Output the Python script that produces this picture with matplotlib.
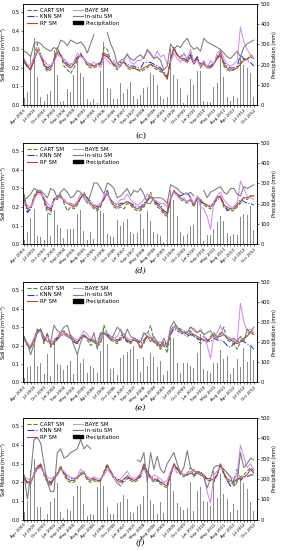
import numpy as np
import matplotlib
matplotlib.use("Agg")
import matplotlib.pyplot as plt
from matplotlib.patches import Patch
from matplotlib.lines import Line2D

nan = np.nan
months = ["Apr", "May", "Jun", "Jul", "Aug", "Sep", "Oct"]
years = list(range(2003, 2013))
dates = [f"{m} {y}" for y in years for m in months]
label_step = 3

# ---------------- panel (c) ----------------
precip_c = [35, 65, 245, 330, 140, 40, 20, 55, 70, 270, 150, 15, 20, 80, 65, 150, 240, 160, 140, 30,
            15, 30, 10, 170, 310, 85, 80, 30, 30, 110, 60, 80, 115, 45, 30, 50, 85, 90, 160, 150,
            100, 45, 30, 40, 280, 150, 130, 85, 10, 50, 130, 100, 170, 170, 20, 15, 15, 90, 110, 240,
            140, 40, 20, 45, 35, 240, 200, 185, 160, 40]
rf_c = [0.24, 0.21, 0.19, 0.24, 0.30, 0.26, 0.22, 0.19, 0.20, 0.24, 0.29, 0.27, 0.23, 0.21,
        0.20, 0.22, 0.25, 0.27, 0.25, 0.22, 0.21, 0.21, 0.22, 0.22, 0.28, 0.27, 0.24, 0.22,
        0.20, 0.22, 0.23, 0.21, 0.20, 0.20, 0.19, 0.19, 0.20, 0.21, 0.22, 0.21, 0.20, 0.19,
        0.17, 0.14, 0.24, 0.31, 0.27, 0.25, 0.24, 0.23, 0.26, 0.22, 0.25, 0.21, 0.22, 0.20,
        0.20, 0.22, 0.25, 0.28, 0.22, 0.20, 0.19, 0.19, 0.20, 0.22, 0.24, 0.25, 0.26, 0.25]
cart_c = [0.25, 0.20, 0.19, 0.26, 0.33, 0.27, 0.21, 0.18, 0.19, 0.25, 0.31, 0.27, 0.21, 0.19,
          0.17, 0.20, 0.24, 0.28, 0.25, 0.21, 0.20, 0.20, 0.21, 0.22, 0.31, 0.30, 0.24, 0.21,
          0.19, 0.21, 0.24, 0.20, 0.19, 0.20, 0.19, 0.18, 0.19, 0.20, 0.22, 0.20, 0.19, 0.18,
          0.17, 0.14, 0.25, 0.31, 0.27, 0.26, 0.28, 0.24, 0.28, 0.23, 0.26, 0.20, 0.23, 0.21,
          0.20, 0.22, 0.26, 0.29, 0.21, 0.19, 0.18, 0.19, 0.20, 0.23, 0.25, 0.24, 0.27, 0.26]
knn_c = [0.23, 0.21, 0.20, 0.24, 0.29, 0.27, 0.23, 0.20, 0.21, 0.24, 0.28, 0.27, 0.24, 0.22,
         0.21, 0.23, 0.26, 0.27, 0.25, 0.23, 0.22, 0.21, 0.22, 0.23, 0.27, 0.26, 0.24, 0.22,
         0.21, 0.23, 0.23, 0.22, 0.21, 0.21, 0.20, 0.20, 0.23, 0.23, 0.23, 0.22, 0.21, 0.20,
         0.18, 0.15, 0.24, 0.30, 0.27, 0.25, 0.25, 0.24, 0.27, 0.23, 0.26, 0.22, 0.23, 0.21,
         0.21, 0.23, 0.25, 0.27, 0.23, 0.21, 0.20, 0.20, 0.21, 0.27, 0.25, 0.24, 0.23, 0.21]
baye_c = [0.25, 0.22, 0.21, 0.26, 0.29, 0.27, 0.24, 0.22, 0.21, 0.23, 0.27, 0.26, 0.25, 0.23,
          0.22, 0.23, 0.28, 0.26, 0.25, 0.23, 0.22, 0.23, 0.22, 0.20, 0.26, 0.24, 0.22, 0.24,
          0.20, 0.22, 0.24, 0.28, 0.23, 0.22, 0.24, 0.24, 0.26, 0.29, 0.27, 0.25, 0.29, 0.26,
          0.27, 0.22, 0.23, 0.28, 0.25, 0.23, 0.28, 0.25, 0.30, 0.23, 0.24, 0.21, 0.24, 0.20,
          0.24, 0.22, 0.28, 0.30, 0.25, 0.22, 0.21, 0.22, 0.24, 0.42, 0.34, 0.30, 0.27, 0.25]
insitu_c = [0.29, 0.28, 0.26, 0.33, 0.34, 0.33, 0.31, 0.30, 0.29, 0.31, 0.30, 0.35, 0.34, 0.32,
            0.35, 0.34, 0.33, 0.34, 0.32, 0.28, 0.33, 0.38, nan, nan, nan, 0.39, 0.33, 0.29,
            0.22, 0.24, 0.25, 0.27, 0.25, 0.24, 0.26, 0.27, 0.25, 0.30, 0.28, 0.25, 0.26, 0.24,
            0.19, 0.21, 0.33, 0.30, 0.32, 0.31, 0.34, 0.36, 0.32, 0.30, 0.31, 0.29, 0.36, 0.34,
            0.33, 0.32, 0.31, 0.30, 0.28, 0.26, 0.25, 0.27, 0.29, 0.26, 0.31, 0.33, 0.34, 0.35]

# ---------------- panel (d) ----------------
precip_d = [20, 60, 130, 175, 40, 35, 20, 150, 40, 170, 95, 80, 30, 75, 75, 75, 150, 170, 65, 20,
            60, 25, 175, 165, 155, 50, 40, 35, 120, 90, 110, 125, 60, 50, 55, 150, 75, 165, 115, 60,
            50, 40, 10, 225, 270, 220, 140, 60, 40, 50, 90, 95, 215, 220, 15, 45, 45, 75, 110, 140,
            115, 55, 40, 50, 45, 135, 150, 145, 190, 70]
rf_d = [0.25, 0.19, 0.20, 0.25, 0.28, 0.28, 0.24, 0.19, 0.18, 0.24, 0.25, 0.26, 0.23, 0.22,
        0.21, 0.20, 0.22, 0.25, 0.27, 0.25, 0.22, 0.20, 0.19, 0.21, 0.25, 0.27, 0.24, 0.21,
        0.20, 0.21, 0.22, 0.23, 0.22, 0.20, 0.19, 0.19, 0.21, 0.23, 0.26, 0.24, 0.21, 0.20,
        0.17, 0.16, 0.24, 0.29, 0.27, 0.25, 0.24, 0.23, 0.24, 0.21, 0.25, 0.24, 0.22, 0.21,
        0.20, 0.22, 0.25, 0.26, 0.21, 0.20, 0.19, 0.19, 0.21, 0.23, 0.25, 0.25, 0.26, 0.26]
cart_d = [0.27, 0.18, 0.19, 0.26, 0.29, 0.28, 0.23, 0.17, 0.16, 0.25, 0.24, 0.27, 0.22, 0.18,
          0.20, 0.19, 0.21, 0.25, 0.28, 0.24, 0.21, 0.19, 0.18, 0.20, 0.26, 0.28, 0.23, 0.20,
          0.19, 0.20, 0.19, 0.22, 0.21, 0.19, 0.18, 0.18, 0.20, 0.24, 0.28, 0.23, 0.20, 0.19,
          0.16, 0.15, 0.25, 0.28, 0.27, 0.24, 0.23, 0.22, 0.24, 0.20, 0.26, 0.23, 0.21, 0.20,
          0.19, 0.21, 0.26, 0.25, 0.20, 0.19, 0.18, 0.18, 0.20, 0.22, 0.25, 0.24, 0.26, 0.26]
knn_d = [0.24, 0.17, 0.19, 0.24, 0.28, 0.28, 0.25, 0.20, 0.19, 0.24, 0.26, 0.25, 0.24, 0.22,
         0.22, 0.21, 0.22, 0.25, 0.26, 0.25, 0.23, 0.21, 0.20, 0.22, 0.24, 0.29, 0.24, 0.22,
         0.21, 0.22, 0.22, 0.23, 0.22, 0.21, 0.20, 0.20, 0.22, 0.24, 0.25, 0.24, 0.22, 0.21,
         0.18, 0.17, 0.25, 0.28, 0.27, 0.26, 0.27, 0.28, 0.25, 0.22, 0.24, 0.23, 0.22, 0.21,
         0.21, 0.22, 0.24, 0.25, 0.22, 0.18, 0.19, 0.20, 0.22, 0.24, 0.23, 0.22, 0.22, 0.21]
baye_d = [0.23, 0.21, 0.20, 0.24, 0.27, 0.27, 0.25, 0.22, 0.20, 0.23, 0.26, 0.25, 0.24, 0.22,
          0.22, 0.21, 0.23, 0.27, 0.26, 0.24, 0.22, 0.21, 0.21, 0.22, 0.26, 0.28, 0.23, 0.22,
          0.22, 0.24, 0.24, 0.27, 0.24, 0.22, 0.21, 0.22, 0.24, 0.27, 0.25, 0.24, 0.23, 0.22,
          0.22, 0.20, 0.25, 0.28, 0.26, 0.24, 0.25, 0.22, 0.25, 0.22, 0.26, 0.20, 0.19, 0.15,
          0.08, 0.23, 0.26, 0.28, 0.24, 0.22, 0.20, 0.20, 0.22, 0.34, 0.30, 0.26, 0.25, 0.24]
insitu_d = [0.24, 0.25, 0.27, 0.30, 0.29, 0.29, 0.27, 0.25, 0.30, 0.29, 0.25, 0.28, 0.30, 0.28,
            0.25, 0.26, 0.29, 0.28, 0.25, 0.22, 0.27, 0.33, 0.33, 0.30, 0.27, 0.33, 0.32, 0.30,
            0.25, 0.26, 0.28, 0.30, 0.26, 0.29, 0.28, 0.30, 0.27, 0.22, 0.22, 0.25, 0.25, 0.25,
            0.24, 0.22, 0.32, 0.31, 0.30, 0.28, 0.27, 0.27, 0.28, 0.26, nan, nan, 0.29, 0.25,
            0.28, 0.29, 0.30, 0.31, 0.28, 0.27, 0.30, 0.30, 0.27, 0.26, 0.31, 0.30, 0.31, 0.32]

# ---------------- panel (e) ----------------
precip_e = [20, 75, 80, 215, 80, 95, 40, 140, 30, 220, 90, 85, 60, 85, 105, 40, 135, 95, 115, 45,
            80, 70, 45, 155, 275, 190, 65, 70, 35, 120, 135, 150, 165, 180, 115, 50, 125, 80, 145, 125,
            75, 105, 35, 55, 225, 220, 95, 45, 95, 95, 80, 70, 145, 240, 65, 55, 45, 95, 95, 160,
            115, 130, 40, 70, 115, 75, 170, 100, 175, 110]
rf_e = [0.24, 0.20, 0.19, 0.23, 0.28, 0.29, 0.22, 0.26, 0.20, 0.22, 0.23, 0.26, 0.27, 0.26,
        0.25, 0.23, 0.22, 0.24, 0.25, 0.24, 0.23, 0.22, 0.21, 0.22, 0.27, 0.25, 0.24, 0.23,
        0.22, 0.24, 0.25, 0.23, 0.22, 0.23, 0.22, 0.19, 0.22, 0.25, 0.24, 0.22, 0.21, 0.19,
        0.21, 0.19, 0.27, 0.30, 0.29, 0.28, 0.27, 0.26, 0.27, 0.26, 0.25, 0.24, 0.23, 0.22,
        0.24, 0.26, 0.25, 0.25, 0.26, 0.24, 0.23, 0.22, 0.21, 0.22, 0.24, 0.25, 0.27, 0.26]
cart_e = [0.25, 0.20, 0.18, 0.24, 0.29, 0.28, 0.21, 0.27, 0.19, 0.21, 0.24, 0.27, 0.28, 0.25,
          0.24, 0.22, 0.21, 0.25, 0.26, 0.23, 0.20, 0.22, 0.20, 0.21, 0.31, 0.26, 0.23, 0.22,
          0.21, 0.25, 0.27, 0.22, 0.21, 0.24, 0.23, 0.18, 0.21, 0.26, 0.31, 0.23, 0.20, 0.18,
          0.20, 0.16, 0.28, 0.31, 0.30, 0.29, 0.28, 0.27, 0.28, 0.25, 0.24, 0.21, 0.23, 0.22,
          0.25, 0.27, 0.24, 0.26, 0.30, 0.23, 0.22, 0.21, 0.18, 0.22, 0.23, 0.26, 0.28, 0.27]
knn_e = [0.23, 0.21, 0.20, 0.23, 0.27, 0.28, 0.23, 0.25, 0.21, 0.23, 0.24, 0.25, 0.26, 0.25,
         0.24, 0.22, 0.21, 0.24, 0.25, 0.24, 0.23, 0.23, 0.22, 0.26, 0.27, 0.26, 0.25, 0.24,
         0.23, 0.23, 0.24, 0.22, 0.22, 0.23, 0.23, 0.21, 0.23, 0.25, 0.24, 0.22, 0.22, 0.20,
         0.22, 0.20, 0.26, 0.29, 0.28, 0.27, 0.26, 0.25, 0.26, 0.25, 0.24, 0.23, 0.25, 0.23,
         0.22, 0.24, 0.23, 0.23, 0.22, 0.20, 0.19, 0.21, 0.22, 0.23, 0.22, 0.21, 0.20, 0.18]
baye_e = [0.23, 0.21, 0.20, 0.24, 0.27, 0.28, 0.24, 0.25, 0.22, 0.23, 0.25, 0.27, 0.26, 0.25,
          0.26, 0.24, 0.23, 0.25, 0.28, 0.26, 0.24, 0.23, 0.22, 0.24, 0.26, 0.27, 0.25, 0.24,
          0.25, 0.29, 0.26, 0.24, 0.23, 0.24, 0.23, 0.22, 0.26, 0.27, 0.25, 0.23, 0.22, 0.22,
          0.21, 0.20, 0.28, 0.30, 0.29, 0.27, 0.28, 0.27, 0.30, 0.28, 0.27, 0.29, 0.26, 0.20,
          0.13, 0.25, 0.27, 0.31, 0.26, 0.25, 0.24, 0.23, 0.22, 0.43, 0.33, 0.28, 0.29, 0.27]
insitu_e = [0.25, 0.21, 0.15, 0.21, 0.27, 0.29, 0.25, 0.22, 0.22, 0.31, 0.28, 0.27, 0.30, 0.31,
            0.25, 0.20, 0.15, 0.22, 0.26, 0.24, 0.22, 0.27, 0.18, 0.27, 0.27, 0.25, 0.23, 0.26,
            0.30, 0.28, 0.24, 0.29, 0.25, 0.24, 0.23, 0.22, 0.27, 0.25, 0.22, 0.25, 0.22, 0.20,
            0.24, 0.20, 0.30, 0.33, 0.30, 0.28, 0.27, 0.27, 0.30, 0.29, 0.27, 0.28, 0.26, 0.27,
            0.28, 0.25, 0.24, 0.27, 0.26, 0.24, 0.23, 0.24, 0.22, 0.25, 0.22, 0.29, 0.27, 0.30]

# ---------------- panel (f) ----------------
precip_f = [40, 90, 245, 300, 65, 65, 5, 30, 85, 105, 180, 40, 10, 55, 45, 115, 165, 165, 75, 20,
            30, 25, 160, 205, 165, 65, 30, 30, 80, 85, 120, 100, 40, 35, 70, 75, 115, 200, 95, 75,
            30, 85, 35, 175, 225, 140, 80, 65, 50, 60, 185, 45, 140, 160, 90, 85, 70, 240, 105, 225,
            125, 100, 40, 75, 50, 190, 180, 150, 85, 45]
rf_f = [0.23, 0.20, 0.20, 0.24, 0.28, 0.30, 0.25, 0.21, 0.19, 0.22, 0.24, 0.28, 0.25, 0.22,
        0.21, 0.21, 0.23, 0.24, 0.25, 0.22, 0.21, 0.22, 0.21, 0.21, 0.25, 0.29, 0.26, 0.23,
        0.21, 0.20, 0.22, 0.23, 0.22, 0.21, 0.22, 0.24, 0.30, 0.26, 0.23, 0.21, 0.22, 0.20,
        0.19, 0.18, 0.24, 0.30, 0.27, 0.25, 0.24, 0.24, 0.25, 0.24, 0.26, 0.25, 0.24, 0.22,
        0.22, 0.21, 0.24, 0.30, 0.25, 0.22, 0.21, 0.20, 0.22, 0.22, 0.23, 0.24, 0.27, 0.25]
cart_f = [0.24, 0.19, 0.19, 0.25, 0.29, 0.29, 0.24, 0.20, 0.18, 0.23, 0.25, 0.29, 0.24, 0.21,
          0.20, 0.20, 0.22, 0.25, 0.26, 0.21, 0.20, 0.21, 0.20, 0.21, 0.26, 0.30, 0.25, 0.22,
          0.20, 0.18, 0.21, 0.24, 0.21, 0.20, 0.21, 0.25, 0.30, 0.25, 0.22, 0.20, 0.21, 0.19,
          0.18, 0.17, 0.25, 0.30, 0.28, 0.24, 0.23, 0.25, 0.28, 0.23, 0.25, 0.26, 0.23, 0.21,
          0.21, 0.20, 0.25, 0.30, 0.24, 0.21, 0.20, 0.19, 0.21, 0.23, 0.24, 0.26, 0.28, 0.26]
knn_f = [0.22, 0.20, 0.21, 0.24, 0.27, 0.29, 0.25, 0.22, 0.20, 0.22, 0.24, 0.27, 0.25, 0.23,
         0.22, 0.22, 0.23, 0.24, 0.25, 0.23, 0.22, 0.22, 0.21, 0.22, 0.24, 0.29, 0.26, 0.23,
         0.22, 0.21, 0.20, 0.22, 0.22, 0.21, 0.22, 0.23, 0.28, 0.25, 0.23, 0.22, 0.21, 0.20,
         0.20, 0.19, 0.24, 0.29, 0.27, 0.25, 0.24, 0.24, 0.25, 0.24, 0.25, 0.24, 0.23, 0.22,
         0.22, 0.22, 0.24, 0.29, 0.25, 0.21, 0.18, 0.21, 0.27, 0.21, 0.23, 0.23, 0.24, 0.24]
baye_f = [0.23, 0.22, 0.21, 0.24, 0.27, 0.28, 0.25, 0.23, 0.22, 0.23, 0.24, 0.27, 0.26, 0.24,
          0.23, 0.22, 0.23, 0.27, 0.25, 0.23, 0.22, 0.23, 0.22, 0.22, 0.24, 0.27, 0.25, 0.23,
          0.19, 0.22, 0.24, 0.26, 0.23, 0.22, 0.23, 0.25, 0.27, 0.24, 0.22, 0.24, 0.23, 0.22,
          0.20, 0.21, 0.26, 0.28, 0.25, 0.26, 0.24, 0.25, 0.26, 0.27, 0.25, 0.24, 0.23, 0.15,
          0.09, 0.24, 0.26, 0.28, 0.27, 0.25, 0.23, 0.22, 0.24, 0.40, 0.34, 0.28, 0.30, 0.27]
insitu_f = [0.24, 0.11, 0.24, 0.43, 0.44, 0.41, 0.30, 0.20, 0.15, 0.15, 0.36, 0.38, 0.33, 0.34,
            0.36, 0.37, 0.38, 0.43, 0.38, 0.40, 0.38, nan, nan, nan, nan, nan, nan, nan,
            nan, nan, nan, nan, nan, nan, 0.32, 0.31, 0.36, 0.20, 0.36, 0.27, 0.34, 0.27,
            0.25, 0.30, 0.33, 0.36, 0.30, 0.25, 0.28, 0.37, 0.28, 0.26, 0.25, 0.24, 0.23, 0.17,
            0.22, 0.28, 0.29, 0.29, 0.27, 0.25, 0.23, 0.18, 0.20, 0.36, 0.28, 0.30, 0.33, 0.32]

panel_labels = ["(c)", "(d)", "(e)", "(f)"]
panels = [
    (cart_c, knn_c, rf_c, baye_c, insitu_c, precip_c),
    (cart_d, knn_d, rf_d, baye_d, insitu_d, precip_d),
    (cart_e, knn_e, rf_e, baye_e, insitu_e, precip_e),
    (cart_f, knn_f, rf_f, baye_f, insitu_f, precip_f),
]

# layout (figure fractions)
ax_left, ax_width = 0.082, 0.833
ax_boxes = [(0.809, 0.184), (0.556, 0.184), (0.305, 0.182), (0.055, 0.185)]
cap_y = [0.7527, 0.508, 0.258, 0.013]

c_cart, c_knn, c_rf, c_baye, c_ins = "#3d8c2f", "#2b35c8", "#c8402a", "#d08ee8", "#7a7a7a"

fig = plt.figure(figsize=(2.81, 5.5), dpi=100)
x = np.arange(len(dates))
tick_labels = [d if i % label_step == 0 else "" for i, d in enumerate(dates)]

for (cart, knn, rf, baye, ins, pr), (b, h), lab, cy in zip(panels, ax_boxes, panel_labels, cap_y):
    ax = fig.add_axes([ax_left, b, ax_width, h])
    ax2 = ax.twinx()
    ax2.bar(x, pr, width=0.3, color="#8c8c8c", zorder=1)
    ax2.set_ylim(0, 500)
    ax2.set_yticks([0, 100, 200, 300, 400, 500])
    ax2.tick_params(labelsize=3.6, length=1.5, width=0.4, pad=1)
    ax2.set_ylabel("Precipitation (mm)", fontsize=3.6, labelpad=1.5)

    ax.set_zorder(ax2.get_zorder() + 1)
    ax.patch.set_visible(False)
    ax.plot(x, cart, color=c_cart, ls="--", lw=0.75)
    ax.plot(x, knn, color=c_knn, ls="-.", lw=0.75)
    ax.plot(x, rf, color=c_rf, ls="-", lw=0.75)
    ax.plot(x, baye, color=c_baye, ls="-", lw=0.75)
    ax.plot(x, ins, color=c_ins, ls="-", lw=0.75)
    ax.set_ylim(0, 0.545)
    ax.set_yticks([0.0, 0.1, 0.2, 0.3, 0.4, 0.5])
    ax.set_yticklabels(["0.0", "0.1", "0.2", "0.3", "0.4", "0.5"])
    ax.set_xlim(-0.3, 70)
    ax.set_xticks(x)
    ax.set_xticklabels(tick_labels, rotation=45, ha="right", rotation_mode="anchor")
    ax.tick_params(axis="x", labelsize=3.0, length=1.5, width=0.4, pad=0.8)
    ax.tick_params(axis="y", labelsize=3.6, length=1.5, width=0.4, pad=1)
    ax.set_ylabel("Soil Moisture (m$^3$m$^{-3}$)", fontsize=3.5, labelpad=1.5)
    for sp in list(ax.spines.values()) + list(ax2.spines.values()):
        sp.set_linewidth(0.5)

    handles = [Line2D([], [], color=c_cart, ls="--", lw=0.8),
               Line2D([], [], color=c_knn, ls="-.", lw=0.8),
               Line2D([], [], color=c_rf, ls="-", lw=0.8),
               Line2D([], [], color=c_baye, ls="-", lw=0.8),
               Line2D([], [], color=c_ins, ls="-", lw=0.8),
               Patch(facecolor="black", edgecolor="black")]
    names = ["CART SM", "KNN SM", "RF SM", "BAYE SM", "In-situ SM", "Precipitation"]
    ax.legend(handles, names, loc="upper left", ncol=2, fontsize=4, frameon=False,
              handlelength=1.8, handleheight=0.6, columnspacing=1.6, labelspacing=0.25,
              handletextpad=0.5, borderaxespad=0.3)

    fig.text(0.5, cy, lab, ha="center", va="center", fontsize=6, family="DejaVu Serif",
             style="italic" if lab != "(c)" else "normal")

fig.savefig("out.png", dpi=100)
